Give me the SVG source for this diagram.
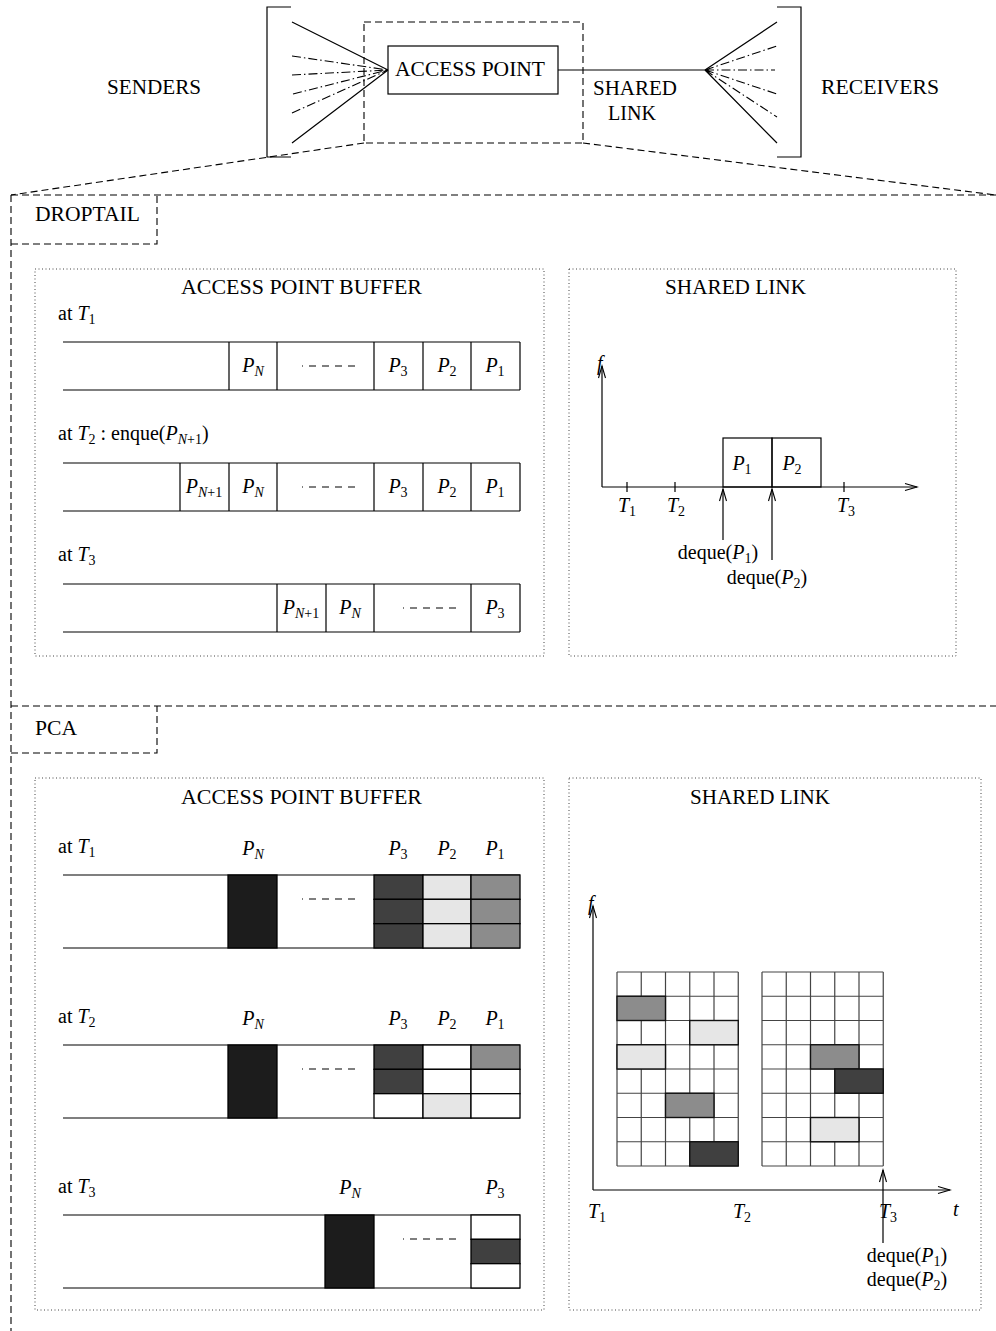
<svg xmlns="http://www.w3.org/2000/svg" width="996" height="1331" viewBox="0 0 996 1331">
<defs>
<style>
.t{font-family:"Liberation Serif","Times New Roman",serif;font-size:20px;fill:#000}
.i{font-style:italic}
.s{font-size:14px}
.ln{fill:none;stroke:#000;stroke-width:1.2}
.dd{fill:none;stroke:#000;stroke-width:1.1;stroke-dasharray:7 4}
.dt{fill:none;stroke:#444;stroke-width:1;stroke-dasharray:1 2.5}
.dda{fill:none;stroke:#000;stroke-width:1.1;stroke-dasharray:9 3 1.5 3}
.c{stroke:#000;stroke-width:1.3}
.k{fill:#1c1c1c}
.d{fill:#404040}
.m{fill:#8c8c8c}
.l{fill:#e6e6e6}
.w{fill:#fff}
.g{fill:none;stroke:#444;stroke-width:1.2}
.gb{stroke:#111;stroke-width:1.4}
</style>
<marker id="ah" markerUnits="userSpaceOnUse" markerWidth="16" markerHeight="10" refX="0" refY="0" orient="auto" overflow="visible" style="overflow:visible">
<path d="M-12,-3.5 L0,0 L-12,3.5" fill="none" stroke="#000" stroke-width="1.1"/>
</marker>
</defs>
<rect width="996" height="1331" fill="#fff"/>

<!-- top overview -->
<g id="senders">
<path class="ln" d="M291,7 H267 V157 H291"/>
<text class="t" x="107" y="94" textLength="94" lengthAdjust="spacingAndGlyphs">SENDERS</text>
</g>
<g id="ap-zoom">
<rect class="dd" x="364" y="22" width="219" height="121"/>
</g>
<g id="access-point">
<rect class="ln" x="388" y="46" width="170" height="48" fill="#fff"/>
<text class="t" x="395" y="76" textLength="150" lengthAdjust="spacingAndGlyphs">ACCESS POINT</text>
</g>
<g id="shared-link-top">
<text class="t" x="593" y="95" textLength="84" lengthAdjust="spacingAndGlyphs">SHARED</text>
<text class="t" x="608" y="120" textLength="48" lengthAdjust="spacingAndGlyphs">LINK</text>
</g>
<g id="receivers">
<path class="ln" d="M777,7 H801 V157 H777"/>
<text class="t" x="821" y="94" textLength="118" lengthAdjust="spacingAndGlyphs">RECEIVERS</text>
</g>

<g id="connectors">
<path class="ln" d="M292,22 L388,70 M292,143 L388,70"/>
<path class="dda" d="M292,56 L388,70 M292,75 L388,70 M293,94 L388,70 M292,113 L388,70"/>
<path class="ln" d="M558,70 H705"/>
<path class="ln" d="M705,70 L777,22 M705,70 L777,143"/>
<path class="dda" d="M705,70 L777,46 M705,70 L775,70 M705,70 L777,94 M705,70 L777,117"/>
<path class="dd" d="M364,143 L11,195 M583,143 L996,195"/>
<path class="dd" d="M11,195 H996 M11,195 V1331 M11,706 H996"/>
</g>

<!-- DROPTAIL section -->
<g id="droptail-label">
<path class="dd" d="M11,244 H157 V195"/>
<text class="t" x="35" y="221" textLength="105" lengthAdjust="spacingAndGlyphs">DROPTAIL</text>
</g>

<g id="droptail-buffer">
<rect class="dt" x="35" y="269" width="509" height="387"/>
<text class="t" x="181" y="294" textLength="241" lengthAdjust="spacingAndGlyphs">ACCESS POINT BUFFER</text>

<text class="t" x="58" y="320">at <tspan class="i">T</tspan><tspan class="s" dy="4">1</tspan></text>
<path class="ln" d="M63,342 H520 M63,390 H520 M229,342 V390 M277,342 V390 M374,342 V390 M423,342 V390 M471,342 V390 M520,342 V390"/>
<path class="ln" d="M302,366 h1 M309,366 h7 M322,366 h7 M335,366 h7 M348,366 h7"/>
<text class="t" x="253" y="372" text-anchor="middle"><tspan class="i">P</tspan><tspan class="s i" dy="4">N</tspan></text>
<text class="t" x="398" y="372" text-anchor="middle"><tspan class="i">P</tspan><tspan class="s" dy="4">3</tspan></text>
<text class="t" x="447" y="372" text-anchor="middle"><tspan class="i">P</tspan><tspan class="s" dy="4">2</tspan></text>
<text class="t" x="495" y="372" text-anchor="middle"><tspan class="i">P</tspan><tspan class="s" dy="4">1</tspan></text>

<text class="t" x="58" y="440">at <tspan class="i">T</tspan><tspan class="s" dy="4">2</tspan><tspan dy="-4"> : enque(</tspan><tspan class="i">P</tspan><tspan class="s" dy="4"><tspan class="i">N</tspan>+1</tspan><tspan dy="-4">)</tspan></text>
<path class="ln" d="M63,463 H520 M63,511 H520 M180,463 V511 M229,463 V511 M277,463 V511 M374,463 V511 M423,463 V511 M471,463 V511 M520,463 V511"/>
<path class="ln" d="M302,487 h1 M309,487 h7 M322,487 h7 M335,487 h7 M348,487 h7"/>
<text class="t" x="204" y="493" text-anchor="middle"><tspan class="i">P</tspan><tspan class="s" dy="4"><tspan class="i">N</tspan>+1</tspan></text>
<text class="t" x="253" y="493" text-anchor="middle"><tspan class="i">P</tspan><tspan class="s i" dy="4">N</tspan></text>
<text class="t" x="398" y="493" text-anchor="middle"><tspan class="i">P</tspan><tspan class="s" dy="4">3</tspan></text>
<text class="t" x="447" y="493" text-anchor="middle"><tspan class="i">P</tspan><tspan class="s" dy="4">2</tspan></text>
<text class="t" x="495" y="493" text-anchor="middle"><tspan class="i">P</tspan><tspan class="s" dy="4">1</tspan></text>

<text class="t" x="58" y="561">at <tspan class="i">T</tspan><tspan class="s" dy="4">3</tspan></text>
<path class="ln" d="M63,584 H520 M63,632 H520 M277,584 V632 M326,584 V632 M374,584 V632 M471,584 V632 M520,584 V632"/>
<path class="ln" d="M403,608 h1 M410,608 h7 M423,608 h7 M436,608 h7 M449,608 h7"/>
<text class="t" x="301" y="614" text-anchor="middle"><tspan class="i">P</tspan><tspan class="s" dy="4"><tspan class="i">N</tspan>+1</tspan></text>
<text class="t" x="350" y="614" text-anchor="middle"><tspan class="i">P</tspan><tspan class="s i" dy="4">N</tspan></text>
<text class="t" x="495" y="614" text-anchor="middle"><tspan class="i">P</tspan><tspan class="s" dy="4">3</tspan></text>
</g>

<g id="droptail-link">
<rect class="dt" x="569" y="269" width="387" height="387"/>
<text class="t" x="665" y="294" textLength="141" lengthAdjust="spacingAndGlyphs">SHARED LINK</text>
<path class="ln" d="M602,487 V366" marker-end="url(#ah)"/>
<path class="ln" d="M602,487 H917" marker-end="url(#ah)"/>
<text class="t i" x="597" y="370">f</text>
<path class="ln" d="M627,482 V492 M675,482 V492 M844,482 V492"/>
<text class="t" x="627" y="512" text-anchor="middle"><tspan class="i">T</tspan><tspan class="s" dy="4">1</tspan></text>
<text class="t" x="676" y="512" text-anchor="middle"><tspan class="i">T</tspan><tspan class="s" dy="4">2</tspan></text>
<text class="t" x="846" y="512" text-anchor="middle"><tspan class="i">T</tspan><tspan class="s" dy="4">3</tspan></text>
<rect class="ln" x="723" y="438" width="49" height="49"/>
<rect class="ln" x="772" y="438" width="49" height="49"/>
<text class="t" x="742" y="470" text-anchor="middle"><tspan class="i">P</tspan><tspan class="s" dy="4">1</tspan></text>
<text class="t" x="792" y="470" text-anchor="middle"><tspan class="i">P</tspan><tspan class="s" dy="4">2</tspan></text>
<path class="ln" d="M723,540 V489" marker-end="url(#ah)"/>
<path class="ln" d="M772,560 V489" marker-end="url(#ah)"/>
<text class="t" x="718" y="559" text-anchor="middle">deque(<tspan class="i">P</tspan><tspan class="s" dy="4">1</tspan><tspan dy="-4">)</tspan></text>
<text class="t" x="767" y="584" text-anchor="middle">deque(<tspan class="i">P</tspan><tspan class="s" dy="4">2</tspan><tspan dy="-4">)</tspan></text>
</g>

<!-- PCA section -->
<g id="pca-label">
<path class="dd" d="M11,753 H157 V706"/>
<text class="t" x="35" y="735" textLength="42" lengthAdjust="spacingAndGlyphs">PCA</text>
</g>

<g id="pca-buffer">
<rect class="dt" x="35" y="778" width="509" height="532"/>
<text class="t" x="181" y="804" textLength="241" lengthAdjust="spacingAndGlyphs">ACCESS POINT BUFFER</text>

<text class="t" x="58" y="853">at <tspan class="i">T</tspan><tspan class="s" dy="4">1</tspan></text>
<text class="t" x="253" y="855" text-anchor="middle"><tspan class="i">P</tspan><tspan class="s i" dy="4">N</tspan></text>
<text class="t" x="398" y="855" text-anchor="middle"><tspan class="i">P</tspan><tspan class="s" dy="4">3</tspan></text>
<text class="t" x="447" y="855" text-anchor="middle"><tspan class="i">P</tspan><tspan class="s" dy="4">2</tspan></text>
<text class="t" x="495" y="855" text-anchor="middle"><tspan class="i">P</tspan><tspan class="s" dy="4">1</tspan></text>
<path class="ln" d="M63,875 H520 M63,948 H520"/>
<rect class="k c" x="228" y="875" width="49" height="73"/>
<path class="ln" d="M302,899 h1 M309,899 h7 M322,899 h7 M335,899 h7 M348,899 h7"/>
<rect class="d c" x="374" y="875" width="49" height="24.33"/>
<rect class="d c" x="374" y="899.33" width="49" height="24.33"/>
<rect class="d c" x="374" y="923.67" width="49" height="24.33"/>
<rect class="l c" x="423" y="875" width="48" height="24.33"/>
<rect class="l c" x="423" y="899.33" width="48" height="24.33"/>
<rect class="l c" x="423" y="923.67" width="48" height="24.33"/>
<rect class="m c" x="471" y="875" width="49" height="24.33"/>
<rect class="m c" x="471" y="899.33" width="49" height="24.33"/>
<rect class="m c" x="471" y="923.67" width="49" height="24.33"/>

<text class="t" x="58" y="1023">at <tspan class="i">T</tspan><tspan class="s" dy="4">2</tspan></text>
<text class="t" x="253" y="1025" text-anchor="middle"><tspan class="i">P</tspan><tspan class="s i" dy="4">N</tspan></text>
<text class="t" x="398" y="1025" text-anchor="middle"><tspan class="i">P</tspan><tspan class="s" dy="4">3</tspan></text>
<text class="t" x="447" y="1025" text-anchor="middle"><tspan class="i">P</tspan><tspan class="s" dy="4">2</tspan></text>
<text class="t" x="495" y="1025" text-anchor="middle"><tspan class="i">P</tspan><tspan class="s" dy="4">1</tspan></text>
<path class="ln" d="M63,1045 H520 M63,1118 H520"/>
<rect class="k c" x="228" y="1045" width="49" height="73"/>
<path class="ln" d="M302,1069 h1 M309,1069 h7 M322,1069 h7 M335,1069 h7 M348,1069 h7"/>
<rect class="d c" x="374" y="1045" width="49" height="24.33"/>
<rect class="d c" x="374" y="1069.33" width="49" height="24.33"/>
<rect class="w c" x="374" y="1093.67" width="49" height="24.33"/>
<rect class="w c" x="423" y="1045" width="48" height="24.33"/>
<rect class="w c" x="423" y="1069.33" width="48" height="24.33"/>
<rect class="l c" x="423" y="1093.67" width="48" height="24.33"/>
<rect class="m c" x="471" y="1045" width="49" height="24.33"/>
<rect class="w c" x="471" y="1069.33" width="49" height="24.33"/>
<rect class="w c" x="471" y="1093.67" width="49" height="24.33"/>

<text class="t" x="58" y="1193">at <tspan class="i">T</tspan><tspan class="s" dy="4">3</tspan></text>
<text class="t" x="350" y="1194" text-anchor="middle"><tspan class="i">P</tspan><tspan class="s i" dy="4">N</tspan></text>
<text class="t" x="495" y="1194" text-anchor="middle"><tspan class="i">P</tspan><tspan class="s" dy="4">3</tspan></text>
<path class="ln" d="M63,1215 H520 M63,1288 H520"/>
<rect class="k c" x="325" y="1215" width="49" height="73"/>
<path class="ln" d="M403,1239 h1 M410,1239 h7 M423,1239 h7 M436,1239 h7 M449,1239 h7"/>
<rect class="w c" x="471" y="1215" width="49" height="24.33"/>
<rect class="d c" x="471" y="1239.33" width="49" height="24.33"/>
<rect class="w c" x="471" y="1263.67" width="49" height="24.33"/>
</g>

<g id="pca-link">
<rect class="dt" x="569" y="778" width="412" height="532"/>
<text class="t" x="690" y="804" textLength="140" lengthAdjust="spacingAndGlyphs">SHARED LINK</text>
<path class="ln" d="M593,1190 V906" marker-end="url(#ah)"/>
<path class="ln" d="M593,1190 H950" marker-end="url(#ah)"/>
<text class="t i" x="588" y="910">f</text>

<!-- grid 1 -->
<path class="g" d="M617,972 H738.25 M617,996.25 H738.25 M617,1020.5 H738.25 M617,1044.75 H738.25 M617,1069 H738.25 M617,1093.25 H738.25 M617,1117.5 H738.25 M617,1141.75 H738.25 M617,1166 H738.25
M617,972 V1166 M738.25,972 V1166
M641.25,972 V996.25 M641.25,1020.5 V1044.75 M641.25,1069 V1166
M665.5,972 V1166
M689.75,972 V1093.25 M689.75,1117.5 V1166
M714,972 V1020.5 M714,1044.75 V1141.75"/>
<rect class="m gb" x="617" y="996.25" width="48.5" height="24.25"/>
<rect class="l gb" x="689.75" y="1020.5" width="48.5" height="24.25"/>
<rect class="l gb" x="617" y="1044.75" width="48.5" height="24.25"/>
<rect class="m gb" x="665.5" y="1093.25" width="48.5" height="24.25"/>
<rect class="d gb" x="689.75" y="1141.75" width="48.5" height="24.25"/>
<!-- grid 2 -->
<path class="g" d="M762,972 H883.25 M762,996.25 H883.25 M762,1020.5 H883.25 M762,1044.75 H883.25 M762,1069 H883.25 M762,1093.25 H883.25 M762,1117.5 H883.25 M762,1141.75 H883.25 M762,1166 H883.25
M762,972 V1166 M883.25,972 V1166
M786.25,972 V1166
M810.5,972 V1166
M834.75,972 V1044.75 M834.75,1093.25 V1117.5 M834.75,1141.75 V1166
M859,972 V1069 M859,1093.25 V1166"/>
<rect class="m gb" x="810.5" y="1044.75" width="48.5" height="24.25"/>
<rect class="d gb" x="834.75" y="1069" width="48.5" height="24.25"/>
<rect class="l gb" x="810.5" y="1117.5" width="48.5" height="24.25"/>

<path class="ln" d="M883,1243 V1170" marker-end="url(#ah)"/>
<text class="t" x="597" y="1218" text-anchor="middle"><tspan class="i">T</tspan><tspan class="s" dy="4">1</tspan></text>
<text class="t" x="742" y="1218" text-anchor="middle"><tspan class="i">T</tspan><tspan class="s" dy="4">2</tspan></text>
<text class="t" x="888" y="1218" text-anchor="middle"><tspan class="i">T</tspan><tspan class="s" dy="4">3</tspan></text>
<text class="t i" x="953" y="1216">t</text>
<text class="t" x="907" y="1262" text-anchor="middle">deque(<tspan class="i">P</tspan><tspan class="s" dy="4">1</tspan><tspan dy="-4">)</tspan></text>
<text class="t" x="907" y="1286" text-anchor="middle">deque(<tspan class="i">P</tspan><tspan class="s" dy="4">2</tspan><tspan dy="-4">)</tspan></text>
</g>
</svg>
